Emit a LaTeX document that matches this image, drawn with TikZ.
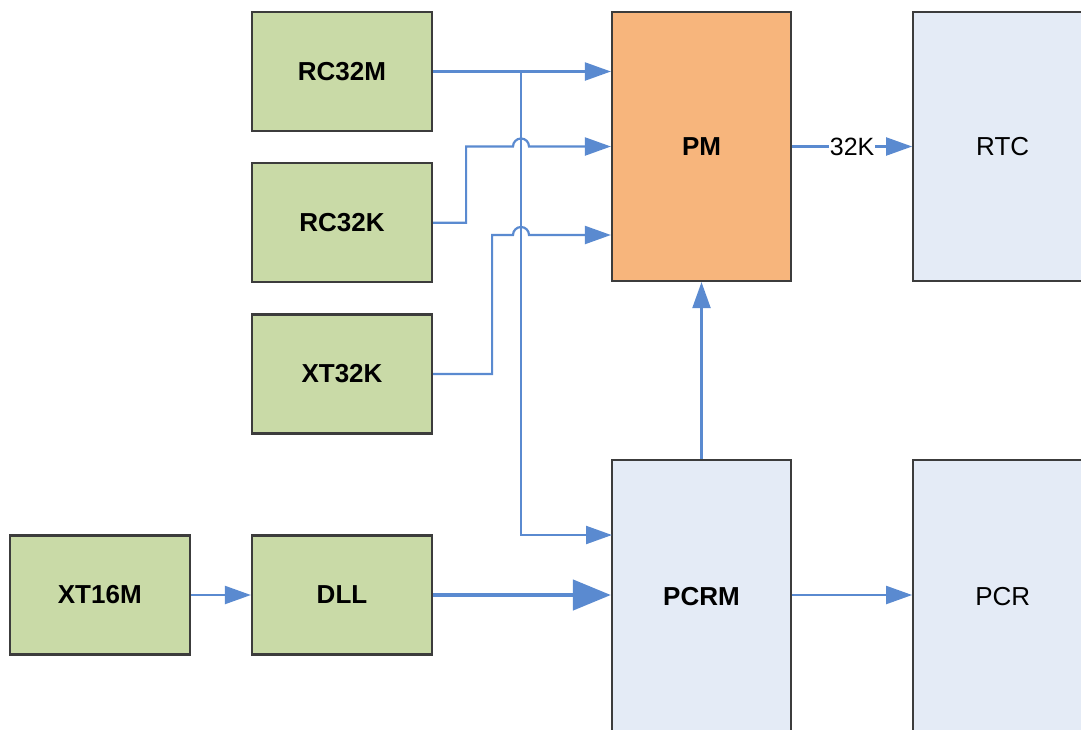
\documentclass[tikz,border=0pt]{standalone}
\usepackage{fontspec}
\setmainfont{Liberation Sans}
\usetikzlibrary{arrows.meta, positioning}
\definecolor{srcgreen}{HTML}{C9DAA7}
\definecolor{unitblue}{HTML}{E4EBF6}
\definecolor{pmorange}{HTML}{F7B57C}
\definecolor{edge}{HTML}{3C3C3C}
\definecolor{wire}{HTML}{5A8AD0}

\begin{document}
\begin{tikzpicture}[x=1pt, y=-1pt,
      blk/.style={rectangle, draw=edge, line width=2.2pt, inner sep=0pt,
                  font=\bfseries\fontsize{26}{30}\selectfont},
      src/.style={blk, fill=srcgreen, minimum width=180pt, minimum height=119pt},
      unit/.style={blk, fill=unitblue, minimum width=179pt, minimum height=269pt},
      plain/.style={font=\fontsize{26}{30}\selectfont},
      lbl/.style={fill=white, text=black, inner xsep=1pt, inner ysep=0pt,
                  font=\fontsize{25}{30}\selectfont},
      ln/.style={line width=2.2pt, wire},
      arr/.style={ln, -{Triangle[length=26pt, width=18pt]}},
      bigarr/.style={line width=4.5pt, wire, -{Triangle[length=38pt, width=30pt]}}
    ]
      \useasboundingbox (0,0) rectangle (1081,729);
      \clip (0,0) rectangle (1081,729);
      % clock sources
      \node[src] (rcm) at (342,71.5) {RC32M};
      \node[src, below=30pt of rcm] (rck) {RC32K};
      \node[src, below=30pt of rck] (xtk) {XT32K};
      \node[src] (dll) at (342,595) {DLL};
      \node[src, left=60pt of dll] (xtm) {XT16M};
      % power and reset blocks
      \node[unit, fill=pmorange] (pm) at (701.5,146.5) {PM};
      \node[unit, plain, right=120pt of pm] (rtc) {RTC};
      \node[unit, minimum height=274pt] (pcrm) at (701.5,597) {PCRM};
      \node[unit, plain, minimum height=274pt, right=120pt of pcrm] (pcr) {PCR};
      \coordinate (tap) at (521,71.5);
      \coordinate (pcrmin) at (612,535);
      % connectors
      \draw[arr] (rcm.east) -- (rcm.east -| pm.west);
      \draw[arr] (tap) |- (pcrmin);
      \draw[arr] (rck.east) -- ++(33,0) |- (513,146.5)
        arc[start angle=180, end angle=0, radius=8pt] -- (pm.west);
      \draw[arr] (xtk.east) -- ++(59,0) |- (513,235)
        arc[start angle=180, end angle=0, radius=8pt] -- ([yshift=-88.5pt]pm.west);
      \draw[arr] (xtm) -- (dll);
      \draw[bigarr] (dll.east) -- (dll.east -| pcrm.west);
      \draw[arr] (pcrm.north) -- (pm.south);
      \draw[arr] (pm) -- node[lbl] {32K} (rtc);
      \draw[arr] (pcrm.east |- dll.east) -- (pcr.west |- dll.east);
    \end{tikzpicture}
\end{document}
